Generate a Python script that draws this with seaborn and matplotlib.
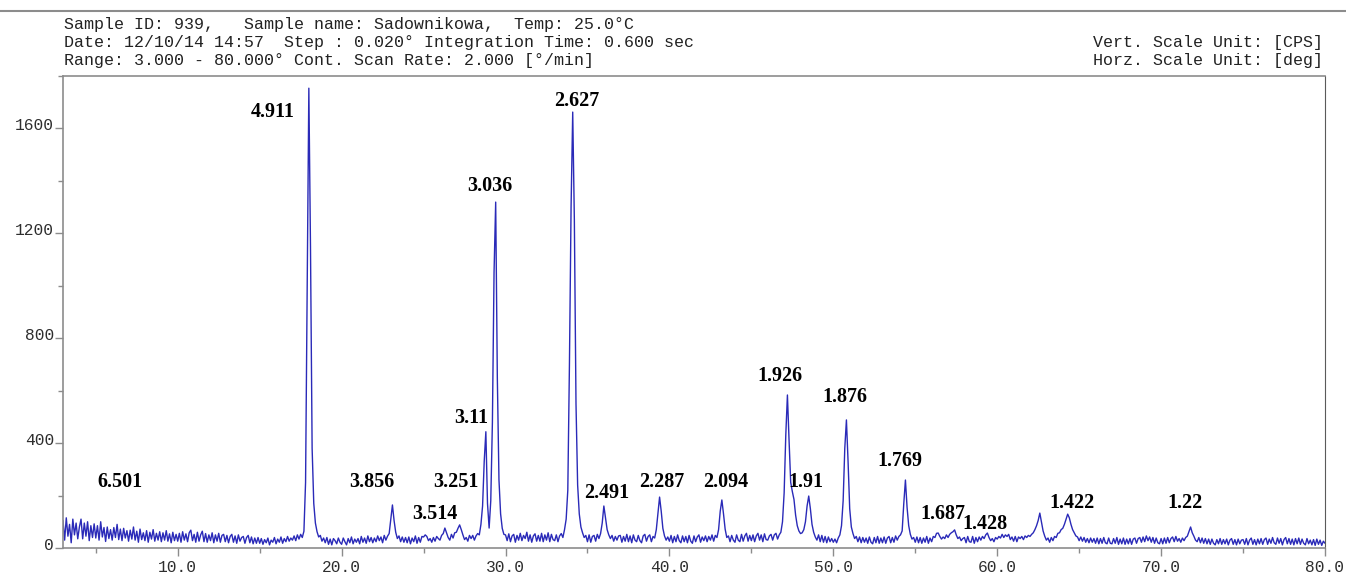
import numpy as np
import pandas as pd
import matplotlib
matplotlib.use("Agg")
import matplotlib.pyplot as plt
import seaborn as sns
from matplotlib.ticker import MultipleLocator, FixedLocator, FixedFormatter
from matplotlib.transforms import ScaledTranslation
from matplotlib.lines import Line2D

# ---------------- data ----------------
# intensity in CPS, one value every 0.1 deg 2-theta from 3.0 to 80.0
intensity_cps = [
    105, 30, 115, 45, 90, 20, 110, 50, 95, 35,       # 3
    80, 110, 35, 95, 45, 100, 28, 85, 40, 92,        # 4
    38, 85, 30, 100, 42, 78, 25, 80, 36, 70,         # 5
    30, 78, 40, 90, 32, 72, 28, 75, 38, 66,          # 6
    26, 68, 34, 80, 30, 64, 22, 72, 32, 58,          # 7
    28, 66, 22, 60, 34, 70, 26, 56, 30, 62,          # 8
    24, 58, 30, 66, 26, 54, 20, 60, 28, 52,          # 9
    26, 56, 22, 62, 30, 54, 24, 58, 68, 28,          # 10
    52, 22, 60, 26, 50, 64, 24, 55, 22, 50,          # 11
    28, 58, 20, 50, 26, 56, 22, 48, 52, 24,          # 12
    48, 20, 44, 52, 22, 46, 18, 50, 26, 40,          # 13
    44, 18, 40, 48, 20, 42, 16, 38, 18, 40,          # 14
    18, 36, 14, 32, 20, 38, 12, 30, 22, 40,          # 15
    16, 34, 22, 42, 18, 36, 24, 44, 26, 38,          # 16
    30, 46, 28, 50, 34, 52, 40, 64, 250, 1000,       # 17
    1752, 1150, 380, 170, 95, 62, 42, 48, 26, 38,    # 18
    20, 40, 14, 34, 12, 36, 28, 16, 38, 22,          # 19
    14, 38, 24, 12, 36, 20, 42, 16, 34, 22,          # 20
    36, 16, 44, 22, 38, 18, 46, 24, 40, 20,          # 21
    38, 24, 46, 28, 42, 20, 48, 30, 45, 55,          # 22
    110, 164, 105, 60, 36, 46, 24, 42, 22, 40,       # 23
    20, 42, 16, 38, 24, 46, 18, 40, 22, 44,          # 24
    42, 50, 44, 28, 36, 22, 40, 26, 44, 36,          # 25
    30, 48, 55, 76, 58, 40, 30, 52, 38, 58,          # 26
    60, 75, 88, 70, 50, 32, 40, 26, 48, 36,          # 27
    48, 30, 46, 55, 50, 90, 160, 330, 443, 170,      # 28
    76, 180, 480, 1050, 1318, 650, 260, 130, 75, 52, # 29
    50, 28, 54, 24, 46, 52, 22, 48, 30, 56,          # 30
    28, 48, 36, 60, 26, 50, 22, 46, 54, 26,          # 31
    48, 26, 56, 24, 50, 30, 58, 24, 52, 32,          # 32
    28, 50, 24, 46, 55, 40, 70, 110, 220, 700,       # 33
    1300, 1661, 1250, 550, 240, 130, 80, 58, 40, 48, # 34
    24, 50, 22, 44, 48, 26, 52, 36, 55, 95,          # 35
    160, 115, 70, 50, 36, 48, 26, 44, 30, 46,        # 36
    48, 22, 44, 26, 52, 24, 46, 20, 50, 30,          # 37
    24, 48, 28, 20, 46, 52, 26, 44, 50, 24,          # 38
    44, 38, 70, 130, 194, 140, 75, 46, 30, 42,       # 39
    26, 48, 20, 44, 24, 50, 28, 20, 46, 24,          # 40
    44, 20, 48, 26, 18, 46, 24, 42, 50, 22,          # 41
    42, 28, 46, 24, 44, 30, 50, 26, 48, 40,          # 42
    70, 140, 183, 130, 72, 40, 46, 24, 48, 30,       # 43
    22, 50, 30, 24, 52, 26, 46, 56, 26, 48,          # 44
    28, 50, 24, 46, 56, 30, 50, 24, 54, 32,          # 45
    30, 46, 52, 30, 50, 56, 34, 50, 60, 100,         # 46
    210, 430, 583, 410, 250, 215, 185, 125, 85, 65,  # 47
    55, 58, 70, 100, 160, 198, 150, 90, 60, 42,      # 48
    30, 50, 24, 48, 22, 44, 20, 42, 24, 36,          # 49
    22, 34, 20, 38, 50, 85, 180, 380, 488, 330,      # 50
    150, 80, 55, 36, 44, 24, 42, 20, 40, 22,         # 51
    38, 18, 42, 22, 16, 40, 20, 44, 18, 38,          # 52
    20, 42, 18, 38, 44, 20, 40, 22, 46, 30,          # 53
    44, 50, 65, 170, 259, 155, 85, 52, 34, 40,       # 54
    22, 42, 20, 40, 18, 38, 22, 44, 18, 38,          # 55
    24, 44, 40, 56, 57, 44, 34, 42, 36, 50,          # 56
    40, 52, 58, 62, 69, 50, 36, 42, 28, 36,          # 57
    40, 20, 44, 24, 22, 44, 18, 40, 24, 42,          # 58
    30, 44, 36, 50, 57, 40, 28, 36, 24, 40,          # 59
    34, 44, 38, 52, 40, 50, 44, 52, 32, 42,          # 60
    26, 44, 24, 42, 36, 44, 32, 46, 40, 48,          # 61
    44, 52, 58, 70, 85, 105, 133, 100, 65, 45,       # 62
    30, 38, 22, 40, 28, 44, 40, 56, 58, 70,          # 63
    75, 90, 110, 129, 115, 90, 70, 58, 46, 42,       # 64
    28, 42, 26, 40, 22, 36, 20, 38, 22, 36,          # 65
    18, 38, 16, 36, 18, 40, 20, 16, 38, 18,          # 66
    16, 36, 18, 40, 14, 34, 16, 38, 14, 34,          # 67
    16, 36, 14, 34, 38, 18, 36, 40, 22, 42,          # 68
    24, 46, 28, 42, 22, 40, 18, 38, 20, 16,          # 69
    36, 16, 38, 18, 40, 20, 36, 42, 24, 44,          # 70
    26, 36, 22, 38, 28, 40, 45, 62, 80, 58,          # 71
    45, 30, 24, 40, 20, 38, 18, 36, 16, 34,          # 72
    14, 34, 18, 12, 32, 16, 36, 14, 32, 16,          # 73
    34, 12, 30, 36, 14, 32, 12, 34, 16, 30,          # 74
    32, 14, 36, 12, 30, 38, 14, 32, 12, 34,          # 75
    16, 36, 14, 32, 38, 14, 34, 18, 40, 20,          # 76
    14, 38, 18, 36, 12, 32, 40, 16, 36, 14,          # 77
    34, 12, 36, 16, 38, 14, 34, 18, 12, 36,          # 78
    16, 30, 12, 32, 10, 34, 14, 30, 10, 26,          # 79
    18,                                              # 80
]
scan_start, scan_step = 3.0, 0.1
two_theta = np.round(scan_start + scan_step * np.arange(len(intensity_cps)), 2)

# d-spacing labels and where they sit (2-theta, CPS)
peak_labels = ["6.501", "4.911", "3.856", "3.514", "3.251", "3.11", "3.036",
               "2.627", "2.491", "2.287", "2.094", "1.926", "1.91", "1.876",
               "1.769", "1.687", "1.428", "1.422", "1.22"]
label_2theta = [6.48, 15.81, 21.85, 25.70, 26.98, 27.89, 29.05,
                34.36, 36.19, 39.55, 43.45, 46.75, 48.33, 50.71,
                54.07, 56.69, 59.25, 64.56, 71.46]
label_cps = [251, 1661, 251, 130, 251, 495, 1379,
             1703, 210, 251, 251, 655, 251, 575,
             331, 130, 91, 171, 171]

x_major_ticks = [10, 20, 30, 40, 50, 60, 70, 80]
x_tick_labels = ["10.0", "20.0", "30.0", "40.0", "50.0", "60.0", "70.0", "80.0"]
y_major_ticks = [0, 400, 800, 1200, 1600]
y_tick_labels = ["0", "400", "800", "1200", "1600"]

header_lines = [
    "Sample ID: 939,   Sample name: Sadownikowa,  Temp: 25.0°C",
    "Date: 12/10/14 14:57  Step : 0.020° Integration Time: 0.600 sec",
    "Range: 3.000 - 80.000° Cont. Scan Rate: 2.000 [°/min]",
]
unit_lines = ["Vert. Scale Unit: [CPS]", "Horz. Scale Unit: [deg]"]

# ---------------- figure ----------------
sns.set_theme(style="white")
plt.rcParams["font.family"] = ["Liberation Mono", "DejaVu Sans"]

W, H = 1346, 574
fig = plt.figure(figsize=(W / 100, H / 100), dpi=100)
fig.patch.set_facecolor("white")

ax_left, ax_right, ax_top, ax_bottom = 63, 1325, 75.6, 548
ax = fig.add_axes([ax_left / W, 1 - ax_bottom / H,
                   (ax_right - ax_left) / W, (ax_bottom - ax_top) / H])
ax.set_facecolor("white")

df = pd.DataFrame({"two_theta": two_theta, "cps": intensity_cps})
sns.lineplot(data=df, x="two_theta", y="cps", ax=ax, color="#2a2ab8",
             linewidth=1.0, estimator=None)

ax.set_xlim(3, 80)
ax.set_ylim(0, 1800)
ax.set_xlabel("")
ax.set_ylabel("")
ax.grid(False)

ax.xaxis.set_major_locator(FixedLocator(x_major_ticks))
ax.xaxis.set_major_formatter(FixedFormatter(x_tick_labels))
ax.xaxis.set_minor_locator(MultipleLocator(5))
ax.yaxis.set_major_locator(FixedLocator(y_major_ticks))
ax.yaxis.set_major_formatter(FixedFormatter(y_tick_labels))
ax.yaxis.set_minor_locator(MultipleLocator(200))

tick_col = "#8c8c8c"
ax.tick_params(axis="both", which="major", direction="out", length=6,
               width=1.0, color=tick_col, labelsize=11.7, labelcolor="#2e2e2e")
ax.tick_params(axis="both", which="minor", direction="out", length=3.5,
               width=1.0, color=tick_col)
ax.tick_params(axis="y", which="major", pad=0.5)
ax.tick_params(axis="x", which="major", pad=3)
ax.tick_params(bottom=True, left=True, top=False, right=False)
ax.tick_params(which="minor", bottom=True, left=True, top=False, right=False)

for side in ["left", "bottom", "top"]:
    ax.spines[side].set_visible(True)
    ax.spines[side].set_color(tick_col)
    ax.spines[side].set_linewidth(1.2)
ax.spines["right"].set_visible(True)
ax.spines["right"].set_color("#5a5a5a")
ax.spines["right"].set_linewidth(0.8)

for s, x, y in zip(peak_labels, label_2theta, label_cps):
    ax.text(x, y, s, ha="center", va="center", fontfamily="Liberation Serif",
            fontweight="bold", fontsize=14.5, color="black")

# header
fig.add_artist(Line2D([0, 1], [1 - 11 / H, 1 - 11 / H], transform=fig.transFigure,
                      color="#8c8c8c", linewidth=1.5))
for i, line in enumerate(header_lines):
    fig.text(64 / W, 1 - [24, 42, 61][i] / H, line, ha="left", va="center",
             fontsize=12, color="#222222", fontfamily="Liberation Mono")
for i, line in enumerate(unit_lines):
    fig.text(1323 / W, 1 - [42, 61][i] / H, line, ha="right", va="center",
             fontsize=12, color="#222222", fontfamily="Liberation Mono")

# lift y tick labels slightly above their ticks, as in the reference
fig.canvas.draw()
offset = ScaledTranslation(0, 4 / 100, fig.dpi_scale_trans)
for lab in ax.get_yticklabels():
    lab.set_transform(lab.get_transform() + offset)

fig.savefig("out.png", dpi=100, facecolor="white")
